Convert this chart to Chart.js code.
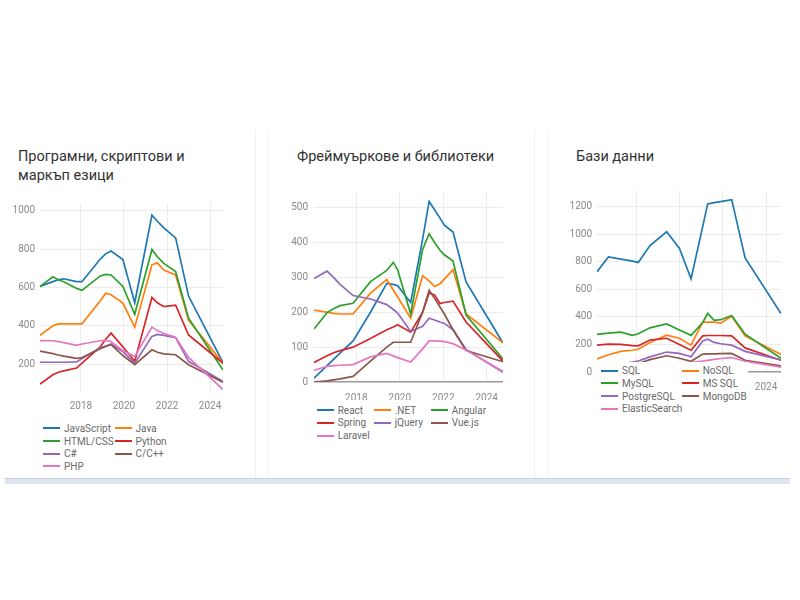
<!DOCTYPE html>
<html><head><meta charset="utf-8">
<script src="https://cdn.jsdelivr.net/npm/chart.js@4.4.1/dist/chart.umd.min.js"></script>
<style>
html,body{margin:0;padding:0;background:#fff;width:800px;height:600px;overflow:hidden;font-family:Roboto,"Noto Sans",sans-serif;}
.title{position:absolute;font-size:14.5px;color:#333;line-height:19px;white-space:nowrap;}
canvas{position:absolute;}
.legend{position:absolute;display:grid;font-size:10px;color:#6a6a6a;box-sizing:border-box;}
.legend .it{display:flex;align-items:center;white-space:nowrap;height:12.7px;}
.legend .sw{display:inline-block;width:17px;height:2px;margin-right:4px;flex:none;}
.vline{position:absolute;width:1px;top:130px;height:348px;}
.band{position:absolute;left:5px;top:478px;width:785px;height:5px;background:#dfe5f1;border-top:1px solid #c9d1e2;}
</style></head>
<body>
<div class="vline" style="left:255px;background:#efefef"></div>
<div class="vline" style="left:268px;background:#f5f5f5"></div>
<div class="vline" style="left:534px;background:#efefef"></div>
<div class="vline" style="left:547px;background:#f5f5f5"></div>
<div class="band"></div>

<div class="title" style="left:18px;top:147px">Програмни, скриптови и<br>маркъп езици</div>
<div class="title" style="left:297px;top:147px">Фреймуъркове и библиотеки</div>
<div class="title" style="left:576px;top:147px">Бази данни</div>

<canvas id="c1" width="250" height="230" style="left:0px;top:190px"></canvas>
<canvas id="c2" width="260" height="230" style="left:270px;top:180px"></canvas>
<canvas id="c3" width="250" height="230" style="left:550px;top:180px"></canvas>

<div id="lg1" class="legend"></div>
<div id="lg2" class="legend"></div>
<div id="lg3" class="legend"></div>

<script>
// ---------- shared ----------
const palette = ['#1f77b4','#ff7f0e','#2ca02c','#d62728','#9467bd','#8c564b','#e377c2'];
const xTickLabels = [2018, 2020, 2022, 2024];

// ---------- chart 1: languages ----------
const langDates = [2016.1, 2016.7, 2016.95, 2017.2, 2017.8, 2018.05, 2018.9, 2019.15, 2019.4, 2019.95, 2020.5, 2021.3, 2021.55, 2021.85, 2022.4, 2023.0, 2024.6];
const langNames = ['JavaScript', 'Java', 'HTML/CSS', 'Python', 'C#', 'C/C++', 'PHP'];
const jsVals     = [605, 630, 640, 645, 630, 630, 748, 775, 790, 745, 520, 977, 945, 910, 858, 555, 208];
const javaVals   = [350, 400, 410, 410, 410, 410, 530, 570, 562, 518, 393, 718, 728, 690, 665, 430, 205];
const htmlVals   = [605, 655, 640, 630, 595, 585, 660, 668, 665, 605, 460, 798, 760, 725, 683, 440, 170];
const pythonVals = [96, 145, 158, 165, 180, 205, 290, 330, 362, 290, 215, 548, 520, 500, 508, 352, 205];
const csharpVals = [210, 210, 210, 210, 212, 230, 285, 295, 305, 265, 205, 345, 355, 350, 338, 215, 110];
const cppVals    = [268, 255, 248, 242, 230, 235, 280, 292, 302, 245, 197, 275, 262, 254, 249, 197, 106];
const phpVals    = [323, 322, 318, 312, 298, 305, 322, 324, 318, 270, 240, 393, 375, 360, 340, 235, 68];
const langTicksY = [200, 400, 600, 800, 1000];

// ---------- chart 2: frameworks ----------
const fwDates = [2016.05, 2016.65, 2016.95, 2017.25, 2017.85, 2018.65, 2019.4, 2019.7, 2019.9, 2020.5, 2021.05, 2021.35, 2021.6, 2021.85, 2022.05, 2022.45, 2023.05, 2024.75];
const fwNames = ['React', '.NET', 'Angular', 'Spring', 'jQuery', 'Vue.js', 'Laravel'];
const reactVals   = [11, 47, 65, 83, 118, 200, 283, 280, 276, 228, 410, 518, 494, 470, 450, 430, 287, 112];
const dotnetVals  = [206, 200, 197, 195, 195, 255, 294, 264, 244, 183, 305, 290, 274, 282, 295, 322, 195, 112];
const angularVals = [152, 199, 210, 219, 226, 288, 320, 343, 322, 195, 380, 425, 400, 378, 365, 347, 192, 66];
const springVals  = [56, 75, 84, 90, 100, 125, 150, 158, 164, 143, 200, 255, 250, 225, 228, 232, 172, 60];
const jqueryVals  = [297, 318, 300, 280, 248, 238, 222, 208, 198, 145, 160, 183, 178, 172, 168, 150, 93, 28];
const vueVals     = [0, 3, 6, 9, 16, 60, 100, 114, 114, 114, 200, 263, 240, 215, 195, 150, 90, 58];
const laravelVals = [33, 45, 47, 48, 50, 72, 82, 75, 70, 57, 95, 118, 118, 117, 116, 110, 92, 30];
const fwTicksY = [0, 100, 200, 300, 400, 500];

// ---------- chart 3: databases ----------
const dbDates = [2016.18, 2016.71, 2017.28, 2017.82, 2018.09, 2018.63, 2019.4, 2019.99, 2020.53, 2021.07, 2021.3, 2021.6, 2021.9, 2022.41, 2023.03, 2024.69];
const dbNames = ['SQL', 'NoSQL', 'MySQL', 'MS SQL', 'PostgreSQL', 'MongoDB', 'ElasticSearch'];
const sqlVals      = [729, 836, 820, 805, 796, 919, 1019, 900, 677, 1058, 1221, 1230, 1238, 1252, 829, 425];
const nosqlVals    = [95, 125, 150, 158, 165, 215, 268, 245, 195, 362, 362, 362, 355, 405, 262, 128];
const mysqlVals    = [273, 283, 290, 266, 278, 321, 349, 305, 266, 360, 425, 375, 380, 410, 275, 100];
const mssqlVals    = [195, 203, 200, 192, 190, 232, 245, 200, 158, 262, 265, 265, 265, 262, 175, 85];
const postgresVals = [40, 50, 60, 72, 80, 110, 145, 135, 110, 225, 238, 215, 205, 195, 150, 88];
const mongoVals    = [30, 40, 50, 58, 62, 90, 118, 100, 78, 130, 132, 132, 133, 135, 85, 45];
const elasticVals  = [20, 25, 30, 35, 38, 50, 60, 65, 70, 80, 85, 92, 98, 105, 78, 35];
const dbTicksY = [0, 200, 400, 600, 800, 1000, 1200];

// ---------- builder ----------
Chart.defaults.font.family = 'Roboto, "Noto Sans", sans-serif';
Chart.defaults.font.size = 10;
Chart.defaults.color = '#8a8a8a';

function buildChart(id, dates, names, series, yMin, yMax, yTicks, cfg) {
  const datasets = series.map((vals, i) => ({
    label: names[i],
    data: dates.map((x, j) => ({ x: x, y: vals[j] })),
    borderColor: palette[i],
    backgroundColor: palette[i],
    borderWidth: 1.7,
    pointRadius: 0,
    tension: 0,
    fill: false,
    order: -i
  }));
  return new Chart(document.getElementById(id), {
    type: 'line',
    data: { datasets: datasets },
    options: {
      responsive: false,
      animation: false,
      events: [],
      layout: { padding: cfg.pad },
      plugins: { legend: { display: false }, tooltip: { enabled: false }, title: { display: false } },
      scales: {
        x: {
          type: 'linear',
          min: dates[0],
          max: dates[dates.length - 1],
          afterBuildTicks: ax => { ax.ticks = xTickLabels.map(v => ({ value: v })); },
          afterFit: s => { s.height = cfg.xH; },
          ticks: { padding: cfg.xPad, maxRotation: 0, autoSkip: false, callback: v => String(v) },
          grid: { color: '#ececec', drawTicks: false },
          border: { display: false }
        },
        y: {
          min: yMin,
          max: yMax,
          afterBuildTicks: ax => { ax.ticks = yTicks.map(v => ({ value: v })); },
          afterFit: s => { s.width = cfg.yW; },
          ticks: { padding: cfg.yPad, autoSkip: false, callback: v => String(v) },
          grid: {
            drawTicks: false,
            color: c => (c.tick && c.tick.value === 0) ? '#9a9a9a' : '#ececec',
            lineWidth: c => (c.tick && c.tick.value === 0) ? 1.5 : 1
          },
          border: { display: false }
        }
      }
    }
  });
}

function buildLegend(id, names, cols, colW, style) {
  const el = document.getElementById(id);
  Object.assign(el.style, style);
  el.style.gridTemplateColumns = 'repeat(' + cols + ', ' + colW + 'px)';
  names.forEach((n, i) => {
    const it = document.createElement('div');
    it.className = 'it';
    const sw = document.createElement('span');
    sw.className = 'sw';
    sw.style.background = palette[i];
    const tx = document.createElement('span');
    tx.textContent = n;
    it.appendChild(sw); it.appendChild(tx);
    el.appendChild(it);
  });
}

buildChart('c1', langDates, langNames,
  [jsVals, javaVals, htmlVals, pythonVals, csharpVals, cppVals, phpVals],
  55, 1040, langTicksY,
  { pad: { left: 0, top: 13, right: 27, bottom: 0 }, yW: 40, xH: 28, yPad: 5, xPad: 8 });

buildChart('c2', fwDates, fwNames,
  [reactVals, dotnetVals, angularVals, springVals, jqueryVals, vueVals, laravelVals],
  0, 545, fwTicksY,
  { pad: { left: 0, top: 8, right: 27, bottom: 0 }, yW: 44, xH: 28, yPad: 6, xPad: 10 });

buildChart('c3', dbDates, dbNames,
  [sqlVals, nosqlVals, mysqlVals, mssqlVals, postgresVals, mongoVals, elasticVals],
  0, 1315, dbTicksY,
  { pad: { left: 0, top: 8, right: 19, bottom: 0 }, yW: 47, xH: 38, yPad: 5, xPad: 9 });

buildLegend('lg1', langNames, 2, 71.5, { left: '43px', top: '422px' });
buildLegend('lg2', fwNames, 3, 57, { left: '310px', top: '400px', width: '196px', paddingLeft: '6.7px', paddingTop: '3.7px', background: '#fff', height: '42px' });
buildLegend('lg3', dbNames, 2, 80.7, { left: '597px', top: '362px', width: '151px', paddingLeft: '4px', paddingTop: '2.4px', background: '#fff', height: '52px' });
</script>
</body></html>
